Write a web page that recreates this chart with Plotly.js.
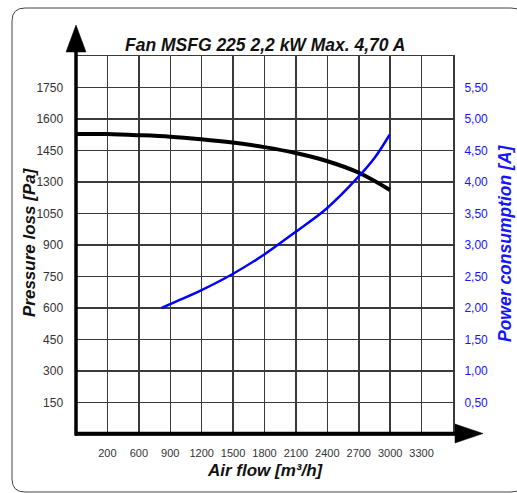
<!DOCTYPE html>
<html>
<head>
<meta charset="utf-8">
<script src="https://cdn.plot.ly/plotly-3.0.1.min.js"></script>
<style>html,body{margin:0;padding:0;background:#fff;}#chart{width:517px;height:493px;}</style>
</head>
<body>
<div id="chart"></div>
<script>
// Pressure curve (left axis, grid units)
const flowP = [0, 296, 592, 898, 1194, 1496, 1798, 2098, 2394, 2696, 2998];
const pressure = [1429, 1428, 1423, 1416, 1404, 1388, 1366, 1338, 1300, 1245, 1162];
// Current curve (right axis)
const flowA = [818, 898, 1194, 1496, 1798, 2098, 2394, 2696, 2850, 2995];
const current = [2.00, 2.06, 2.28, 2.54, 2.85, 3.21, 3.58, 4.08, 4.38, 4.75];
// Tick labels
const xTickVals = [0, 300, 600, 900, 1200, 1500, 1800, 2100, 2400, 2700, 3000, 3300, 3600];
const xTickText = ["", "200", "600", "900", "1200", "1500", "1800", "2100", "2400", "2700", "3000", "3300", ""];
const yTickVals = [0, 150, 300, 450, 600, 750, 900, 1050, 1200, 1350, 1500, 1650, 1800];
const yTickText = ["", "150", "300", "450", "600", "750", "900", "1050", "1300", "1450", "1600", "1750", ""];
const y2TickVals = [0.5, 1.0, 1.5, 2.0, 2.5, 3.0, 3.5, 4.0, 4.5, 5.0, 5.5];
const y2TickText = ["0,50", "1,00", "1,50", "2,00", "2,50", "3,00", "3,50", "4,00", "4,50", "5,00", "5,50"];

const FONT = "Liberation Sans, Arial, sans-serif";
const BLUE = "#1515ff";
const GRID = "#3a3a3a";

const traces = [
  {x: flowP, y: pressure, type: "scatter", mode: "lines",
   line: {color: "#000", width: 4, shape: "spline", smoothing: 1}, yaxis: "y", hoverinfo: "skip"},
  {x: flowA, y: current, type: "scatter", mode: "lines",
   line: {color: "#0000ff", width: 2.5, shape: "spline"}, yaxis: "y2", hoverinfo: "skip"}
];

// pixel helpers for decoration (plot area: x 76..453, y 56..434)
const L = 76, R = 453, T = 56, B = 434;
const px = v => (v - L) / (R - L);
const py = v => (B - v) / (B - T);

function roundRect(x0, y0, x1, y1, r) {
  const rx = r / (R - L), ry = r / (B - T);
  const a = px(x0), b = px(x1), top = py(y0), bot = py(y1);
  return `M ${a + rx} ${top} L ${b - rx} ${top} Q ${b} ${top} ${b} ${top - ry} ` +
         `L ${b} ${bot + ry} Q ${b} ${bot} ${b - rx} ${bot} L ${a + rx} ${bot} ` +
         `Q ${a} ${bot} ${a} ${bot + ry} L ${a} ${top - ry} Q ${a} ${top} ${a + rx} ${top} Z`;
}

const shapes = [
  {type: "path", xref: "paper", yref: "paper", path: roundRect(12, 8, 524, 492, 13),
   line: {color: "#444", width: 1}, layer: "below"},
  // thick axes
  {type: "line", xref: "paper", yref: "paper", x0: 0, x1: 0, y0: py(435.5), y1: py(50),
   line: {color: "#000", width: 3.5}},
  {type: "line", xref: "paper", yref: "paper", x0: px(75), x1: px(457), y0: py(433.5), y1: py(433.5),
   line: {color: "#000", width: 3.5}},
  // arrow heads
  {type: "path", xref: "paper", yref: "paper",
   path: `M ${px(76)} ${py(25)} L ${px(66)} ${py(52)} L ${px(86)} ${py(52)} Z`,
   fillcolor: "#000", line: {color: "#000", width: 0.5}},
  {type: "path", xref: "paper", yref: "paper",
   path: `M ${px(483)} ${py(433.5)} L ${px(455)} ${py(424)} L ${px(455)} ${py(443)} Z`,
   fillcolor: "#000", line: {color: "#000", width: 0.5}}
];

const ann = (text, x, y, color, size, angle) => ({
  text: text, xref: "paper", yref: "paper", x: px(x), y: py(y),
  xanchor: "center", yanchor: "middle", textangle: angle || 0, showarrow: false,
  font: {family: FONT, size: size, color: color}
});

const annotations = [
  ann("<b><i>Fan MSFG 225 2,2 kW Max. 4,70 A</i></b>", 264.5, 45, "#111", 17.5),
  ann("<b><i>Pressure loss [Pa]</i></b>", 29, 242, "#111", 17, -90),
  ann("<b><i>Power consumption [A]</i></b>", 505, 243, BLUE, 17.5, -90),
  ann("<b><i>Air flow [m³/h]</i></b>", 265, 470, "#111", 17)
];

const layout = {
  width: 517, height: 493,
  margin: {l: L, r: 517 - R, t: T, b: 493 - B, pad: 0},
  paper_bgcolor: "#fff", plot_bgcolor: "#fff",
  showlegend: false,
  font: {family: FONT, size: 12, color: "#333"},
  xaxis: {range: [0, 3600], tickmode: "array", tickvals: xTickVals, ticktext: xTickText,
          showgrid: true, gridcolor: GRID, gridwidth: 1.5, zeroline: false,
          showline: true, mirror: true, linecolor: GRID, linewidth: 1.5,
          ticks: "outside", ticklen: 8, tickcolor: "rgba(0,0,0,0)",
          tickfont: {family: FONT, size: 11, color: "#333"}, fixedrange: true},
  yaxis: {range: [0, 1800], tickmode: "array", tickvals: yTickVals, ticktext: yTickText,
          showgrid: true, gridcolor: GRID, gridwidth: 1.5, zeroline: false,
          showline: true, mirror: true, linecolor: GRID, linewidth: 1.5,
          ticks: "outside", ticklen: 9, tickcolor: "rgba(0,0,0,0)",
          tickfont: {family: FONT, size: 12, color: "#333"}, fixedrange: true},
  yaxis2: {range: [0, 6], overlaying: "y", side: "right", tickmode: "array",
           tickvals: y2TickVals, ticktext: y2TickText, showgrid: false, zeroline: false,
           showline: false, ticks: "outside", ticklen: 8, tickcolor: "rgba(0,0,0,0)",
           tickfont: {family: FONT, size: 12, color: BLUE}, fixedrange: true},
  shapes: shapes,
  annotations: annotations
};

Plotly.newPlot("chart", traces, layout, {displayModeBar: false, staticPlot: true});
</script>
</body>
</html>
